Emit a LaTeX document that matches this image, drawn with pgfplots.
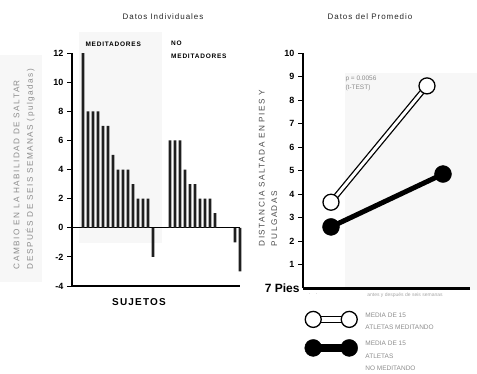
\documentclass[border=0pt]{standalone}
\usepackage{fontspec}
\setmainfont{Liberation Sans}
\newfontfamily\spaced[LetterSpace=12]{Liberation Sans}
\newfontfamily\wide[LetterSpace=18]{Liberation Sans}
\usepackage{pgfplots}
\pgfplotsset{compat=1.18}
\definecolor{faint}{gray}{0.55}
\begin{document}
\begin{tikzpicture}[x=1pt,y=1pt]
\useasboundingbox (0,0) rectangle (477,373);
% light background bands of the scan
\fill[black!3] (79,130) rectangle (162,341);
\fill[black!3] (345,83) rectangle (477,300);
\fill[black!3] (0,91) rectangle (42,318);
% titles and labels
\node[font=\spaced\fontsize{8}{9}\selectfont, text=black!85] at (163,356) {Datos Individuales};
\node[font=\spaced\fontsize{8}{9}\selectfont, text=black!85] at (370,356) {Datos del Promedio};
\node[font=\spaced\fontsize{6.5}{7}\selectfont\bfseries, anchor=west] at (82,329) {MEDITADORES};
\node[font=\spaced\fontsize{6.5}{13}\selectfont\bfseries, anchor=north west, align=left, inner sep=0pt] at (171,332) {NO\\MEDITADORES};
\node[font=\spaced\fontsize{10}{10}\selectfont\bfseries] at (139,71) {SUJETOS};
\node[rotate=90, align=left, font=\wide\fontsize{8.2}{13.5}\selectfont, text=faint] at (24,204) {CAMBIO EN LA HABILIDAD DE SALTAR\\DESPUÉS DE SEIS SEMANAS (pulgadas)};
\node[rotate=90, align=left, font=\wide\fontsize{8.2}{12.5}\selectfont, text=black!70] at (268,205) {DISTANCIA SALTADA EN PIES Y\\PULGADAS};
\node[anchor=west, font=\fontsize{6.5}{7}\selectfont, text=faint] at (342,294) {p = 0.0056};
\node[anchor=west, font=\fontsize{6.5}{7}\selectfont, text=faint] at (342,285) {(t-TEST)};
\node[font=\fontsize{5}{6}\selectfont, text=faint] at (313,78) {·\quad·};
\node[font=\fontsize{5}{6}\selectfont, text=black!35] at (405,78) {antes y después de seis semanas};
% ---------------- left axis
\begin{axis}[
  at={(72pt,87pt)}, anchor=south west, scale only axis,
  width=168pt, height=233pt,
  xmin=0, xmax=168, ymin=-4, ymax=12,
  axis x line*=bottom, axis y line*=left,
  x axis line style={line width=2.6pt},
  y axis line style={line width=1.2pt},
  xtick=\empty, ytick={-4,-2,...,12},
  tick align=outside, major tick length=5pt,
  tick style={black, line width=0.8pt},
  yticklabel style={font=\fontsize{9}{10}\selectfont\bfseries},
  /pgf/number format/assume math mode=true,
  clip=false,
]
\draw[black, line width=0.6pt] (axis cs:0,0) -- (axis cs:168,0);
\addplot[ybar, bar width=2.6pt, bar shift=0pt, fill=black!88, draw=none] coordinates {
 (11,12) (16,8) (21,8) (26,8) (31,7) (36,7) (41,5) (46,4) (51,4) (56,4) (61,3) (66,2) (71,2) (76,2) (81,-2)
};
\addplot[ybar, bar width=2.6pt, bar shift=0pt, fill=black!88, draw=none] coordinates {
 (98,6) (103,6) (108,6) (113,4) (118,3) (123,3) (128,2) (133,2) (138,2) (143,1) (148,0) (153,0) (158,0) (163,-1) (168,-3)
};
\end{axis}
% ---------------- right axis
\begin{axis}[
  at={(303pt,85pt)}, anchor=south west, scale only axis,
  width=167pt, height=235pt,
  xmin=0, xmax=167, ymin=0, ymax=10,
  axis x line*=bottom, axis y line*=left,
  x axis line style={line width=3pt},
  y axis line style={line width=1.4pt},
  xtick=\empty, ytick={1,...,10},
  extra y ticks={0}, extra y tick labels={{\fontsize{12}{12}\selectfont\bfseries 7 Pies}},
  extra y tick style={major tick length=0pt},
  tick align=outside, major tick length=5pt,
  tick style={black, line width=0.8pt},
  yticklabel style={font=\fontsize{9}{10}\selectfont\bfseries},
  /pgf/number format/assume math mode=true,
  clip=false,
  legend style={at={(axis description cs:-0.01,-0.07)}, anchor=north west, draw=none, fill=none,
    font=\fontsize{6.5}{12.5}\selectfont, text=faint, row sep=7pt},
  legend cell align=left,
]
\addplot[black, line width=1.3pt, double=white, double distance=3pt, forget plot] coordinates {(28,3.65) (124,8.6)};
\addplot[only marks, mark=*, mark size=8pt, mark options={fill=white, draw=black, line width=1.3pt}, forget plot] coordinates {(28,3.65) (124,8.6)};
\addplot[black, line width=5pt, forget plot] coordinates {(28,2.6) (140,4.85)};
\addplot[only marks, mark=*, mark size=8.5pt, mark options={fill=black, draw=black}, forget plot] coordinates {(28,2.6) (140,4.85)};
\addlegendimage{legend image code/.code={
  \draw[black, line width=7pt] (2pt,-3pt) -- (38pt,-3pt);
  \draw[white, line width=4.4pt] (2pt,-3pt) -- (38pt,-3pt);
  \draw[black, fill=white, line width=1.3pt] (2pt,-3pt) circle (8pt);
  \draw[black, fill=white, line width=1.3pt] (38pt,-3pt) circle (8pt);
  \path (52pt,-3pt);}}
\addlegendentry{\begin{tabular}{@{}l@{}}MEDIA DE 15\\ATLETAS MEDITANDO\end{tabular}}
\addlegendimage{legend image code/.code={
  \draw[black, line width=8pt] (2pt,0pt) -- (38pt,0pt);
  \fill[black] (2pt,0pt) circle (8.5pt);
  \fill[black] (38pt,0pt) circle (8.5pt);
  \path (52pt,0pt);}}
\addlegendentry{\begin{tabular}{@{}l@{}}MEDIA DE 15\\ATLETAS\\NO MEDITANDO\end{tabular}}
\end{axis}
\end{tikzpicture}
\end{document}
